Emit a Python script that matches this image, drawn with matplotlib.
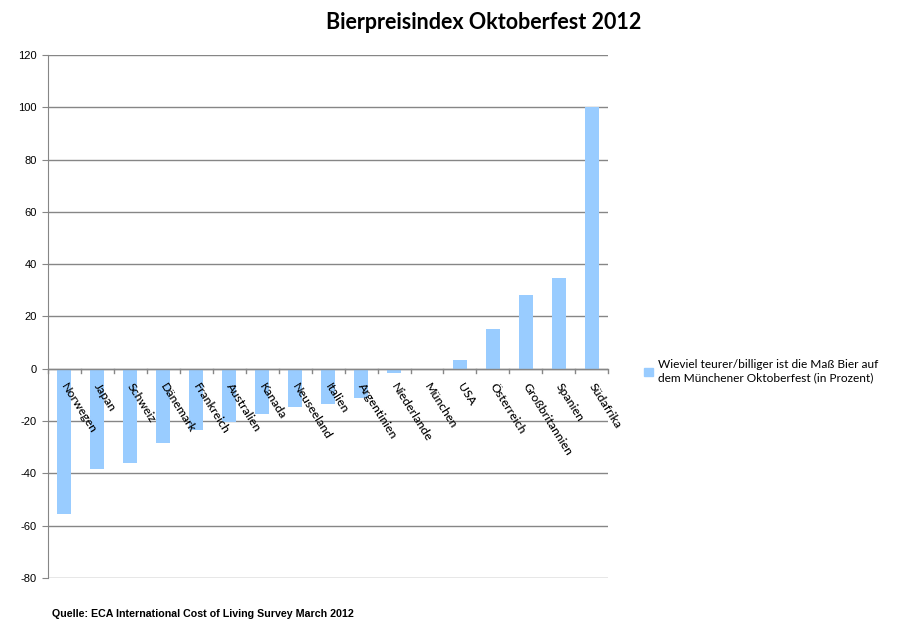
import matplotlib.pyplot as plt
from matplotlib.patches import Patch
from matplotlib import transforms

# Daten
laender = ["Norwegen", "Japan", "Schweiz", "Dänemark", "Frankreich", "Australien",
           "Kanada", "Neuseeland", "Italien", "Argentinien", "Niederlande", "München",
           "USA", "Österreich", "Großbritannien", "Spanien", "Südafrika"]
prozent = [-55.7, -38.4, -35.9, -28.4, -23.5, -20.5, -17.4, -14.5, -13.4, -11.0,
           -1.8, 0.0, 3.3, 15.2, 28.1, 34.7, 100.0]
y_ticks = list(range(-80, 121, 20))

farbe = "#99ccff"
grau = "#868686"

fig = plt.figure(figsize=(9, 6.4), dpi=100)
ax = fig.add_axes([0.053, 0.097, 0.623, 0.817])

x = list(range(len(laender)))
ax.bar(x, prozent, width=0.42, color=farbe, zorder=3)

ax.set_ylim(-80, 120)
ax.set_xlim(-0.5, len(laender) - 0.5)
ax.set_yticks(y_ticks)
ax.set_yticklabels([str(v) for v in y_ticks], fontsize=8, family="Liberation Sans")
ax.yaxis.grid(True, color=grau, linewidth=1)
ax.set_axisbelow(True)
ax.tick_params(axis="y", length=4, color=grau, pad=4)

for s in ["top", "right", "bottom"]:
    ax.spines[s].set_visible(False)
ax.spines["left"].set_color(grau)

# x-Achse bei 0 mit Teilstrichen an den Kategoriegrenzen
ax.axhline(0, color=grau, linewidth=1, zorder=4)
ax.set_xticks([])
for b in [i - 0.5 for i in range(len(laender) + 1)]:
    ax.plot([b, b], [0, -1.5], color=grau, linewidth=1, zorder=4, clip_on=False)

off = transforms.offset_copy(ax.transData, fig=fig, x=3, y=-9, units="points")
for i, name in enumerate(laender):
    ax.text(i, 0, name, rotation=-58, rotation_mode="anchor", ha="left", va="top",
            fontsize=8.8, family="Lato", fontweight="medium", transform=off, zorder=5)

fig.text(0.537, 0.965, "Bierpreisindex Oktoberfest 2012", ha="center", va="center",
         fontsize=15.5, fontweight="bold", family="Lato")

leg = ax.legend([Patch(color=farbe)],
                ["Wieviel teurer/billiger ist die Maß Bier auf\ndem Münchener Oktoberfest (in Prozent)"],
                loc="center left", bbox_to_anchor=(1.045, 0.395), frameon=False,
                handlelength=0.7, handleheight=0.7, handletextpad=0.4,
                prop={"family": "Lato", "size": 8.6})

fig.text(0.058, 0.036, "Quelle: ECA International Cost of Living Survey March 2012",
         fontsize=7.7, fontweight="bold", family="Liberation Sans")

fig.savefig("out.png", dpi=100)
